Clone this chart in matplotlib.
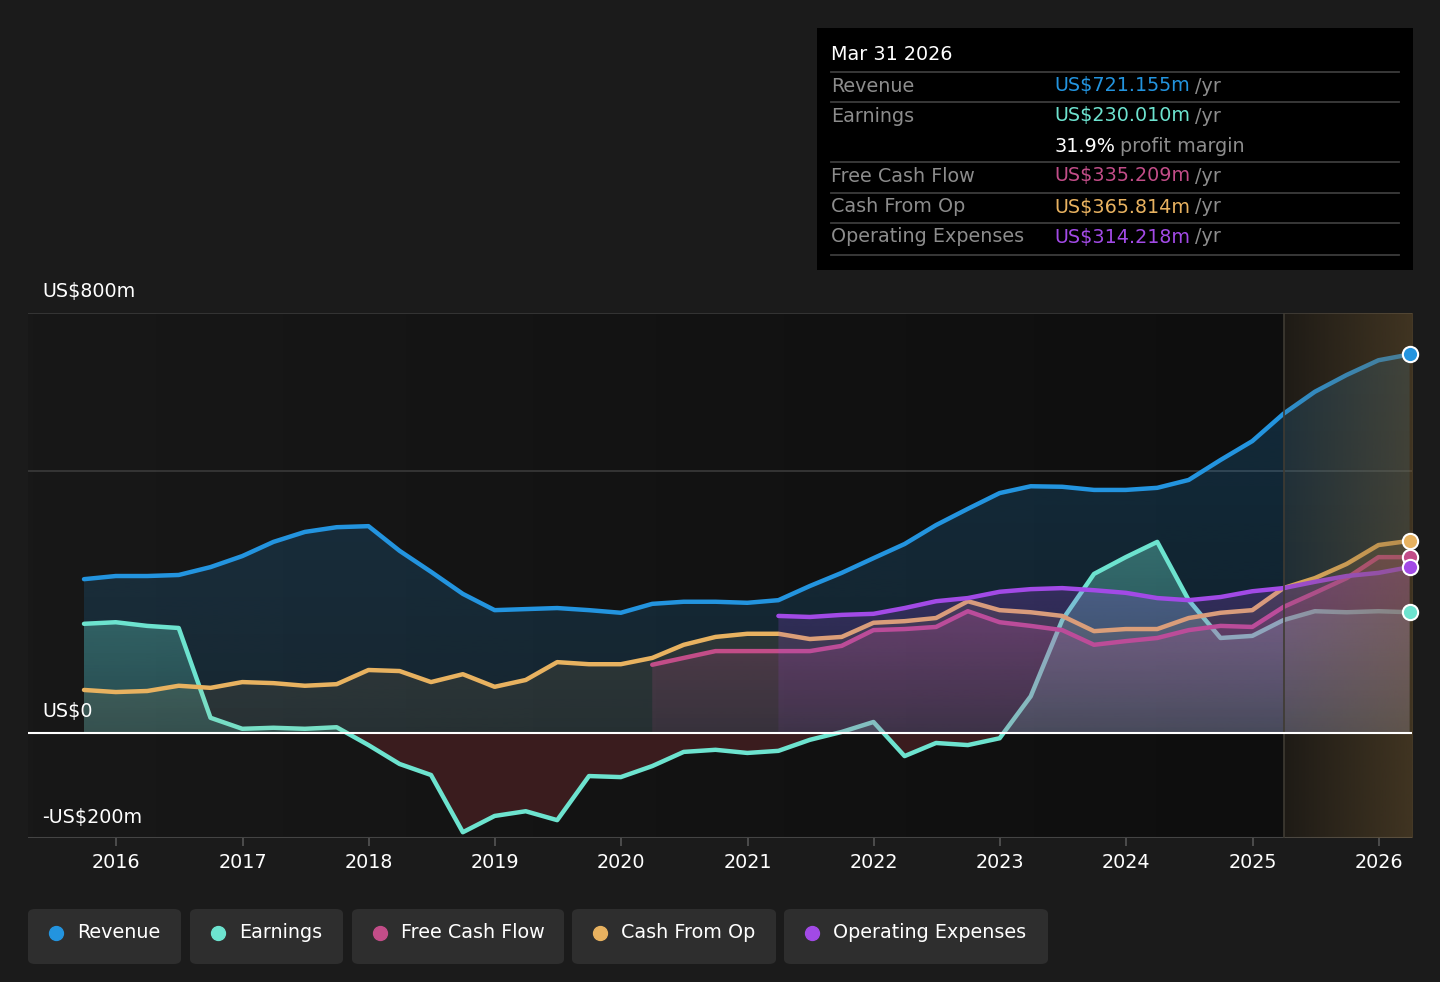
import numpy as np
import pandas as pd
import matplotlib
matplotlib.use("Agg")
import matplotlib.pyplot as plt
import matplotlib.dates as mdates
from matplotlib.patches import FancyBboxPatch
from matplotlib.colors import to_rgb

# quarterly data, US$m (trailing twelve months)
quarters = pd.date_range("2015-09-30", "2026-03-31", freq="QE")

revenue = [293, 299, 299, 301, 316, 337, 364, 383, 392, 394, 347, 307, 265,
           234, 236, 238, 234, 229, 246, 250, 250, 248, 253, 280, 305, 333,
           360, 396, 427, 457, 470, 469, 463, 463, 467, 482, 520, 556, 608,
           650, 682, 710, 721]
earnings = [208, 211, 204, 200, 29, 8, 10, 8, 11, -23, -59, -80, -189,
            -158, -149, -166, -82, -84, -63, -36, -32, -38, -34, -13, 2, 21,
            -44, -19, -23, -10, 70, 215, 303, 335, 364, 253, 181, 185, 215,
            232, 230, 232, 230]
cash_from_op = [82, 78, 80, 90, 86, 97, 95, 90, 93, 120, 118, 97, 112,
                88, 101, 135, 131, 131, 143, 168, 183, 189, 189, 179, 183,
                210, 213, 219, 251, 234, 230, 223, 194, 198, 198, 219, 229,
                234, 276, 295, 322, 358, 366]
# these two start later
free_cash_flow = [130, 143, 156, 156, 156, 156, 166, 196, 198, 202, 232, 211,
                  204, 196, 168, 175, 181, 196, 204, 202, 240, 267, 295, 335,
                  335]
op_expenses = [223, 221, 225, 227, 238, 251, 257, 269, 274, 276, 272, 267,
               257, 253, 259, 270, 276, 288, 299, 305, 316]

forecast_start = pd.Timestamp("2025-04-01")
years = list(range(2016, 2027))

tooltip_date = "Mar 31 2026"
tooltip_rows = [("Revenue", "US$721.155m", "#2394df"),
                ("Earnings", "US$230.010m", "#6de3cf"),
                ("Free Cash Flow", "US$335.209m", "#c24d88"),
                ("Cash From Op", "US$365.814m", "#e8b260"),
                ("Operating Expenses", "US$314.218m", "#a24ae6")]
profit_margin = "31.9%"

C_REV = "#2394df"
C_EARN = "#6de3cf"
C_FCF = "#c24d88"
C_CFO = "#e8b260"
C_OPEX = "#a24ae6"
BG = "#1b1b1b"
GREY = "#8c8c8c"
FS = 13.8

W, H = 1440, 982
fig = plt.figure(figsize=(W / 100, H / 100), dpi=100, facecolor=BG)


def fx(px):
    return px / W


def fy(py):
    return 1 - py / H


ax = fig.add_axes([fx(28), fy(838), fx(1412) - fx(28), fy(313) - fy(838)])
ax.set_facecolor("#141414")

x = mdates.date2num(quarters)
rev = np.array(revenue, float)
earn = np.array(earnings, float)
cfo = np.array(cash_from_op, float)
fcf = np.array(free_cash_flow, float)
opex = np.array(op_expenses, float)
x_fcf = x[len(x) - len(fcf):]
x_opex = x[len(x) - len(opex):]

x0 = mdates.date2num(pd.Timestamp("2015-04-21"))
x1 = mdates.date2num(pd.Timestamp("2026-04-07"))
xf = mdates.date2num(forecast_start)
ax.set_xlim(x0, x1)
ax.set_ylim(-200, 800)

# background: slightly lighter on the left, darker towards the forecast
g = np.linspace(0, 1, 256)
bg_l, bg_r = np.array([24, 24, 24]) / 255, np.array([14, 14, 14]) / 255
bg_img = (bg_l[None, :] * (1 - g[:, None]) + bg_r[None, :] * g[:, None])[None, :, :]
ax.imshow(bg_img, extent=[x0, xf, -200, 800], aspect="auto", zorder=0)
ax.fill_between([xf, x1], -200, 800, color="#121212", zorder=0, lw=0)

# grid
for v in [500, 800]:
    ax.axhline(v, color="#3a3a3a", lw=1.2, zorder=0.5)
ax.axhline(-200, color="#444444", lw=1.5, zorder=0.5)


def grad_fill(xs, ys, color, a_top, a_bot, z, where=None):
    poly = ax.fill_between(xs, ys, 0, where=where, interpolate=True,
                           facecolor="none", lw=0, zorder=z)
    img = np.zeros((256, 1, 4))
    img[..., :3] = to_rgb(color)
    img[:, 0, 3] = np.linspace(a_top, a_bot, 256)
    top = max(ys.max(), 1)
    im = ax.imshow(img, extent=[xs[0], xs[-1], 0, top], aspect="auto",
                   origin="upper", zorder=z, interpolation="bilinear")
    paths = poly.get_paths()
    if paths:
        from matplotlib.path import Path
        im.set_clip_path(Path.make_compound_path(*paths), ax.transData)


lw = 3.2
# revenue
grad_fill(x, rev, C_REV, 0.22, 0.14, 1)
ax.plot(x, rev, color=C_REV, lw=lw, zorder=2, solid_capstyle="round")
# earnings
grad_fill(x, earn, C_EARN, 0.38, 0.18, 3, where=earn > 0)
ax.fill_between(x, earn, 0, where=earn < 0, interpolate=True,
                color="#3a1c1e", alpha=1, lw=0, zorder=3)
ax.plot(x, earn, color=C_EARN, lw=lw, zorder=4, solid_capstyle="round")
# cash from op
grad_fill(x, cfo, C_CFO, 0.16, 0.08, 5)
ax.plot(x, cfo, color=C_CFO, lw=lw, zorder=6, solid_capstyle="round")
# free cash flow
grad_fill(x_fcf, fcf, C_FCF, 0.32, 0.12, 7)
ax.plot(x_fcf, fcf, color=C_FCF, lw=lw, zorder=8, solid_capstyle="round")
# operating expenses
grad_fill(x_opex, opex, C_OPEX, 0.26, 0.08, 9)
ax.plot(x_opex, opex, color=C_OPEX, lw=lw, zorder=10, solid_capstyle="round")

# forecast shading
fc = np.array(to_rgb("#7a5f35"))
alph = np.linspace(0.12, 0.45, 256)
fc_img = np.zeros((1, 256, 4))
fc_img[0, :, :3] = fc
fc_img[0, :, 3] = alph
ax.imshow(fc_img, extent=[xf, x1, -200, 800], aspect="auto", zorder=11,
          interpolation="bilinear")
ax.axvline(xf, color="#3f3b33", lw=1.2, zorder=11)

ax.axhline(0, color="white", lw=1.5, zorder=12)

# end markers
for series, col in [(rev, C_REV), (cfo, C_CFO), (fcf, C_FCF),
                    (opex, C_OPEX), (earn, C_EARN)]:
    ax.plot(x[-1], series[-1], "o", ms=11, mfc=col, mec="white", mew=1.5,
            zorder=13, clip_on=False)

for s in ax.spines.values():
    s.set_visible(False)
ax.set_yticks([])
ax.set_xticks(mdates.date2num([pd.Timestamp(f"{y}-01-01") for y in years]))
ax.set_xticklabels([str(y) for y in years])
ax.tick_params(axis="x", colors="#555555", length=6, width=1.2, labelsize=FS,
               labelcolor="white", pad=5)

# y labels
fig.text(fx(42), fy(291), "US$800m", color="white", fontsize=FS, va="center")
fig.text(fx(42), fy(712), "US$0", color="white", fontsize=FS, va="center")
fig.text(fx(42), fy(817), "-US$200m", color="white", fontsize=FS, va="center")

# tooltip
fig.patches.append(FancyBboxPatch((fx(817), fy(270)), fx(1413) - fx(817),
                                  fy(28) - fy(270), boxstyle="square,pad=0",
                                  transform=fig.transFigure, facecolor="black",
                                  edgecolor="none", zorder=5))
renderer = fig.canvas.get_renderer()
fig.text(fx(831), fy(54), tooltip_date, color="white", fontsize=FS,
         va="center", zorder=6)
for yl in [72, 102, 162, 193, 223, 255]:
    fig.add_artist(plt.Line2D([fx(831), fx(1399)], [fy(yl), fy(yl)],
                              transform=fig.transFigure, color="#3c3c3c",
                              lw=1.3, zorder=6))


def pair(px, py, first, c1, second, c2):
    t = fig.text(fx(px), fy(py), first, color=c1, fontsize=FS, va="center",
                 zorder=6)
    bb = t.get_window_extent(renderer)
    fig.text(fx(bb.x1 + 5), fy(py), second, color=c2, fontsize=FS,
             va="center", zorder=6)


row_y = [86, 116, 176, 207, 237]
for (lab, val, col), py in zip(tooltip_rows, row_y):
    fig.text(fx(831), fy(py), lab, color=GREY, fontsize=FS, va="center",
             zorder=6)
    pair(1054, py, val, col, "/yr", GREY)
pair(1054, 146, profit_margin, "white", "profit margin", GREY)

# legend
legend = [("Revenue", C_REV, 28, 181), ("Earnings", C_EARN, 190, 343),
          ("Free Cash Flow", C_FCF, 352, 564), ("Cash From Op", C_CFO, 572, 776),
          ("Operating Expenses", C_OPEX, 784, 1048)]
for name, col, l, r in legend:
    fig.patches.append(FancyBboxPatch((fx(l), fy(964)), fx(r) - fx(l),
                                      fy(909) - fy(964),
                                      boxstyle="round,pad=0,rounding_size=0.005",
                                      transform=fig.transFigure,
                                      facecolor="#2e2e2e", edgecolor="none"))
    fig.add_artist(plt.Line2D([fx(l + 28)], [fy(933)], marker="o", ms=10,
                              color=col, transform=fig.transFigure, lw=0))
    fig.text(fx(l + 49), fy(933), name, color="white", fontsize=FS,
             va="center")

fig.savefig("out.png", dpi=100, facecolor=BG)
